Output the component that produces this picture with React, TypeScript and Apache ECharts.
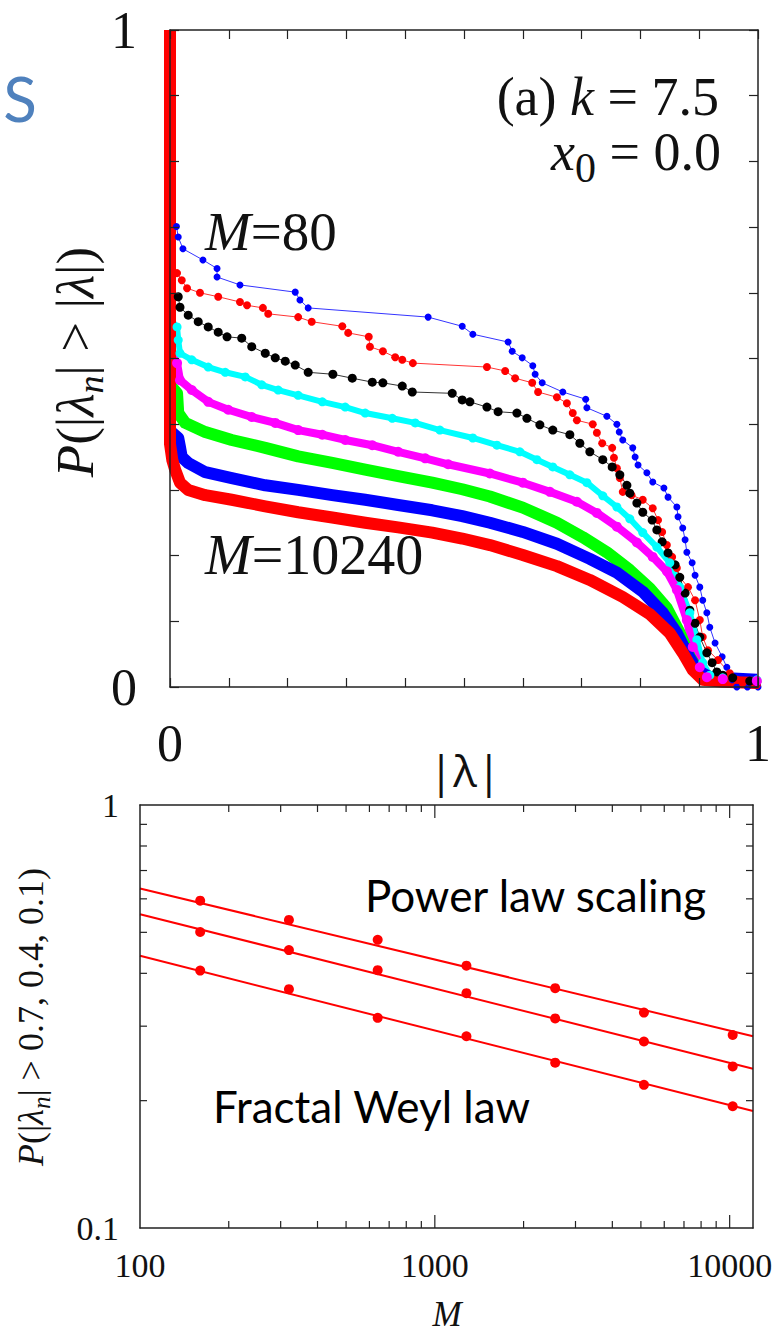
import React, { useEffect, useRef } from 'react';
import * as echarts from 'echarts';

// ---------- Top panel: P(|λn| > |λ|) vs |λ| ----------
const m80 = [[0, 1], [0, 0.72], [0.011, 0.701], [0.014, 0.685], [0.022, 0.667], [0.056, 0.650], [0.080, 0.637], [0.080, 0.624], [0.119, 0.612], [0.213, 0.601], [0.221, 0.589], [0.235, 0.577], [0.439, 0.563], [0.497, 0.549], [0.515, 0.537], [0.575, 0.525], [0.582, 0.511], [0.599, 0.501], [0.617, 0.489], [0.621, 0.476], [0.633, 0.463], [0.668, 0.449], [0.707, 0.438], [0.709, 0.425], [0.743, 0.412], [0.760, 0.400], [0.764, 0.388], [0.770, 0.376], [0.787, 0.364], [0.791, 0.350], [0.796, 0.338], [0.811, 0.326], [0.821, 0.312], [0.840, 0.303], [0.847, 0.289], [0.862, 0.274], [0.864, 0.259], [0.872, 0.242], [0.876, 0.224], [0.879, 0.205], [0.888, 0.189], [0.893, 0.170], [0.901, 0.152], [0.906, 0.132], [0.913, 0.113], [0.918, 0.091], [0.927, 0.067], [0.939, 0.046], [0.947, 0.030], [0.956, 0.011], [0.964, 0], [0.982, 0], [1.0, 0]];
const m160 = [[0, 1], [0, 0.65], [0.012, 0.630], [0.020, 0.619], [0.029, 0.607], [0.051, 0.600], [0.082, 0.594], [0.119, 0.586], [0.131, 0.581], [0.158, 0.577], [0.167, 0.568], [0.218, 0.563], [0.241, 0.556], [0.293, 0.549], [0.303, 0.539], [0.338, 0.533], [0.340, 0.518], [0.362, 0.511], [0.383, 0.502], [0.395, 0.498], [0.413, 0.493], [0.539, 0.487], [0.570, 0.481], [0.587, 0.470], [0.616, 0.463], [0.626, 0.449], [0.658, 0.441], [0.675, 0.432], [0.685, 0.417], [0.692, 0.406], [0.719, 0.400], [0.726, 0.387], [0.735, 0.371], [0.752, 0.364], [0.755, 0.349], [0.760, 0.333], [0.765, 0.318], [0.770, 0.297], [0.785, 0.292], [0.804, 0.285], [0.821, 0.272], [0.830, 0.254], [0.837, 0.236], [0.845, 0.216], [0.854, 0.198], [0.862, 0.181], [0.867, 0.167], [0.881, 0.152], [0.893, 0.132], [0.901, 0.102], [0.906, 0.076], [0.915, 0.056], [0.932, 0.041], [0.952, 0.021], [0.964, 0.011], [0.974, 0.006], [0.998, 0.003]];
const m320 = [[0, 1], [0, 0.61], [0.014, 0.594], [0.017, 0.578], [0.031, 0.566], [0.048, 0.556], [0.065, 0.548], [0.082, 0.540], [0.097, 0.533], [0.122, 0.531], [0.139, 0.518], [0.162, 0.508], [0.179, 0.501], [0.196, 0.496], [0.213, 0.490], [0.235, 0.479], [0.277, 0.476], [0.310, 0.470], [0.344, 0.464], [0.362, 0.463], [0.395, 0.458], [0.412, 0.449], [0.480, 0.447], [0.497, 0.437], [0.510, 0.434], [0.539, 0.426], [0.558, 0.419], [0.590, 0.417], [0.607, 0.409], [0.629, 0.399], [0.651, 0.391], [0.680, 0.384], [0.697, 0.371], [0.714, 0.358], [0.736, 0.346], [0.752, 0.335], [0.765, 0.323], [0.777, 0.307], [0.782, 0.295], [0.794, 0.280], [0.804, 0.266], [0.820, 0.254], [0.828, 0.239], [0.837, 0.221], [0.847, 0.204], [0.859, 0.186], [0.867, 0.167], [0.876, 0.143], [0.884, 0.117], [0.893, 0.097], [0.901, 0.076], [0.913, 0.052], [0.922, 0.037], [0.930, 0.023], [0.940, 0.018], [0.957, 0.014], [0.986, 0.009], [0.998, 0.008]];
const m640 = [[0, 1], [0, 0.56], [0.012, 0.548], [0.014, 0.528], [0.017, 0.508], [0.037, 0.498], [0.065, 0.487], [0.094, 0.479], [0.128, 0.472], [0.156, 0.460], [0.184, 0.452], [0.218, 0.444], [0.259, 0.434], [0.298, 0.426], [0.332, 0.417], [0.378, 0.409], [0.417, 0.402], [0.459, 0.391], [0.515, 0.379], [0.556, 0.368], [0.595, 0.358], [0.624, 0.346], [0.651, 0.335], [0.680, 0.323], [0.709, 0.311], [0.736, 0.291], [0.760, 0.274], [0.782, 0.256], [0.804, 0.235], [0.828, 0.213], [0.850, 0.189], [0.867, 0.152], [0.884, 0.113], [0.896, 0.072], [0.906, 0.037], [0.918, 0.018], [0.940, 0.014], [0.998, 0.011]];
const m1280 = [[0, 1], [0, 0.51], [0.012, 0.493], [0.017, 0.467], [0.037, 0.452], [0.065, 0.434], [0.099, 0.422], [0.139, 0.411], [0.179, 0.402], [0.218, 0.391], [0.259, 0.384], [0.298, 0.376], [0.344, 0.368], [0.388, 0.358], [0.434, 0.348], [0.473, 0.339], [0.544, 0.325], [0.600, 0.311], [0.646, 0.297], [0.692, 0.282], [0.726, 0.265], [0.760, 0.244], [0.794, 0.220], [0.821, 0.198], [0.845, 0.176], [0.862, 0.148], [0.879, 0.102], [0.889, 0.061], [0.901, 0.030], [0.913, 0.015], [0.940, 0.012], [0.998, 0.009]];
const m2560 = [[0, 1], [0, 0.46], [0.012, 0.447], [0.014, 0.417], [0.026, 0.402], [0.060, 0.388], [0.105, 0.376], [0.162, 0.364], [0.218, 0.351], [0.276, 0.341], [0.332, 0.331], [0.388, 0.321], [0.446, 0.311], [0.497, 0.301], [0.544, 0.290], [0.600, 0.273], [0.658, 0.250], [0.702, 0.228], [0.743, 0.205], [0.782, 0.178], [0.816, 0.150], [0.845, 0.120], [0.867, 0.082], [0.884, 0.046], [0.901, 0.021], [0.923, 0.014], [0.998, 0.009]];
const m5120 = [[0, 1], [0, 0.39], [0.014, 0.379], [0.017, 0.365], [0.020, 0.350], [0.031, 0.341], [0.060, 0.327], [0.105, 0.318], [0.162, 0.307], [0.218, 0.300], [0.276, 0.292], [0.332, 0.285], [0.388, 0.277], [0.446, 0.269], [0.497, 0.260], [0.544, 0.250], [0.600, 0.236], [0.658, 0.218], [0.714, 0.195], [0.760, 0.174], [0.804, 0.145], [0.838, 0.113], [0.862, 0.082], [0.879, 0.052], [0.896, 0.026], [0.918, 0.015], [0.998, 0.011]];
const m10240 = [[0, 1], [0, 0.37], [0.004, 0.345], [0.009, 0.330], [0.017, 0.311], [0.031, 0.300], [0.060, 0.292], [0.105, 0.285], [0.162, 0.275], [0.218, 0.266], [0.276, 0.258], [0.332, 0.250], [0.388, 0.243], [0.446, 0.235], [0.497, 0.226], [0.544, 0.216], [0.600, 0.201], [0.658, 0.184], [0.714, 0.163], [0.770, 0.137], [0.816, 0.111], [0.850, 0.082], [0.872, 0.052], [0.889, 0.026], [0.906, 0.011], [0.940, 0.008], [0.998, 0.006]];
const topTickLabels = ['0', '1'];

// ---------- Bottom panel: P(|λn| > 0.7, 0.4, 0.1) vs M ----------
const mValues = [160, 320, 640, 1280, 2560, 5120, 10240];
const pAbove01 = [0.594, 0.535, 0.480, 0.417, 0.369, 0.323, 0.286];
const pAbove04 = [0.501, 0.454, 0.407, 0.359, 0.313, 0.276, 0.241];
const pAbove07 = [0.406, 0.367, 0.314, 0.284, 0.246, 0.218, 0.194];
const fitM = [100, 12000];
const fit01 = [0.635, 0.284];
const fit04 = [0.552, 0.238];
const fit07 = [0.440, 0.189];
const xMajorTicks = [1000, 10000];
const xMinorTicks = [200, 300, 400, 500, 600, 700, 800, 900, 2000, 3000, 4000, 5000, 6000, 7000, 8000, 9000];
const yMinorTicks = [0.2, 0.3, 0.4, 0.5, 0.6, 0.7, 0.8, 0.9];
const bottomXLabels = [100, 1000, 10000];

const SERIF = 'Liberation Serif, serif';
const SANS = 'Lato, Open Sans, Noto Sans, sans-serif';
const AX = '#222';
const INK = '#111';

function topSeries(data: number[][], color: string, lineWidth: number, symbolSize: number) {
  return {
    type: 'line',
    xAxisIndex: 0,
    yAxisIndex: 0,
    // points on the hidden steep part at |λ|≈0 carry no marker
    data: data.map((p) => (p[0] < 0.005 ? { value: p, symbol: 'none' } : p)),
    clip: false,
    silent: true,
    showSymbol: symbolSize > 0,
    symbol: 'circle',
    symbolSize,
    itemStyle: { color },
    lineStyle: { color, width: lineWidth, cap: 'butt', join: 'round' },
    z: 2,
  };
}

function serifRich(size: number, lineHeight: number, subSize: number, subHeight: number) {
  return {
    r: { fontFamily: SERIF, fontStyle: 'normal', fontSize: size, lineHeight, fill: INK },
    i: { fontFamily: SERIF, fontStyle: 'italic', fontSize: size, lineHeight, fill: INK },
    s: { fontFamily: SERIF, fontStyle: 'italic', fontSize: subSize, lineHeight, height: subHeight, verticalAlign: 'bottom', fill: INK },
    u: { fontFamily: SERIF, fontStyle: 'normal', fontSize: subSize, lineHeight, height: subHeight, verticalAlign: 'bottom', fill: INK },
  };
}

function richText(x: number, y: number, text: string, align: string, rich: any, lineHeight: number, size: number, rotation = 0) {
  return {
    type: 'text', x, y, rotation, silent: true,
    style: {
      text, fontFamily: SERIF, fontStyle: 'normal', fontSize: size, lineHeight, fill: INK,
      align, verticalAlign: 'middle', textAlign: align, textVerticalAlign: 'middle',
      rich,
    },
  };
}

export default function App() {
  const ref = useRef<HTMLDivElement>(null);
  useEffect(() => {
    const chart = echarts.init(ref.current as HTMLDivElement, null, { renderer: 'svg' });

    const topLabelFmt = (v: number) => (Math.abs(v) < 1e-9 ? topTickLabels[0] : Math.abs(v - 1) < 1e-9 ? topTickLabels[1] : '');
    const topTick = { show: true, inside: true, length: 9, lineStyle: { color: AX, width: 1.2 } };
    const axisLine = { show: true, onZero: false, lineStyle: { color: AX, width: 1.5 } };

    const option: any = {
      animation: false,
      backgroundColor: '#fff',
      grid: [
        { left: 170, top: 30, width: 588, height: 657, show: false, containLabel: false, outerBoundsMode: 'none' },
        { left: 140, top: 805, width: 613, height: 423, show: false, containLabel: false, outerBoundsMode: 'none' },
      ],
      xAxis: [
        {
          gridIndex: 0, type: 'value', min: 0, max: 1, interval: 0.1, position: 'bottom', z: 10,
          axisLine, axisTick: topTick, splitLine: { show: false },
          axisLabel: { show: true, margin: 30, fontSize: 52, fontFamily: SERIF, color: INK, formatter: topLabelFmt, showMinLabel: true, showMaxLabel: true },
        },
        {
          gridIndex: 0, type: 'value', min: 0, max: 1, interval: 0.1, position: 'top', z: 10,
          axisLine, axisTick: topTick, splitLine: { show: false }, axisLabel: { show: false },
        },
        {
          gridIndex: 1, type: 'log', logBase: 10, min: 100, max: 12000, position: 'bottom', z: 10,
          axisLine, axisTick: { show: false }, splitLine: { show: false }, minorTick: { show: false },
          axisLabel: {
            show: true, margin: 20, fontSize: 34, fontFamily: SERIF, color: INK,
            formatter: (v: number) => (bottomXLabels.includes(Math.round(v)) ? String(Math.round(v)) : ''),
          },
        },
        {
          gridIndex: 1, type: 'log', logBase: 10, min: 100, max: 12000, position: 'top', z: 10,
          axisLine, axisTick: { show: false }, splitLine: { show: false }, axisLabel: { show: false },
        },
      ],
      yAxis: [
        {
          gridIndex: 0, type: 'value', min: 0, max: 1, interval: 0.1, position: 'left', z: 10,
          axisLine, axisTick: topTick, splitLine: { show: false },
          axisLabel: { show: true, margin: 33, fontSize: 52, fontFamily: SERIF, color: INK, formatter: topLabelFmt, showMinLabel: true, showMaxLabel: true },
        },
        {
          gridIndex: 0, type: 'value', min: 0, max: 1, interval: 0.1, position: 'right', z: 10,
          axisLine, axisTick: topTick, splitLine: { show: false }, axisLabel: { show: false },
        },
        {
          gridIndex: 1, type: 'log', logBase: 10, min: 0.1, max: 1, position: 'left', z: 10,
          axisLine, axisTick: { show: false }, splitLine: { show: false }, minorTick: { show: false },
          axisLabel: {
            show: true, margin: 21, fontSize: 34, fontFamily: SERIF, color: INK,
            formatter: (v: number) => (Math.abs(v - 1) < 1e-6 ? '1' : Math.abs(v - 0.1) < 1e-6 ? '0.1' : ''),
          },
        },
        {
          gridIndex: 1, type: 'log', logBase: 10, min: 0.1, max: 1, position: 'right', z: 10,
          axisLine, axisTick: { show: false }, splitLine: { show: false }, axisLabel: { show: false },
        },
      ],
      series: [
        topSeries(m80, '#0000ff', 0.8, 7),
        topSeries(m160, '#ff0000', 0.8, 8),
        topSeries(m320, '#000000', 0.8, 9),
        topSeries(m640, '#00ffff', 6, 9),
        topSeries(m1280, '#ff00ff', 8, 10),
        topSeries(m2560, '#00ff00', 12, 0),
        topSeries(m5120, '#0000ff', 12, 0),
        topSeries(m10240, '#ff0000', 12, 0),
        ...[fit01, fit04, fit07].map((fit) => ({
          type: 'line', xAxisIndex: 2, yAxisIndex: 2, silent: true, showSymbol: false,
          data: fitM.map((m, i) => [m, fit[i]]),
          lineStyle: { color: '#ff0000', width: 2 },
          itemStyle: { color: '#ff0000' },
        })),
        ...[pAbove01, pAbove04, pAbove07].map((p) => ({
          type: 'scatter', xAxisIndex: 2, yAxisIndex: 2, silent: true,
          data: mValues.map((m, i) => [m, p[i]]),
          symbolSize: 10,
          itemStyle: { color: '#ff0000', opacity: 1 },
        })),
        {
          type: 'custom', xAxisIndex: 2, yAxisIndex: 2, silent: true, z: 10,
          data: [...xMajorTicks, ...xMinorTicks].map((v) => [v, 0.1]),
          renderItem: (_p: any, api: any) => {
            const v = api.value(0);
            const len = xMajorTicks.includes(v) ? 13 : 7;
            const b = api.coord([v, 0.1]);
            const t = api.coord([v, 1]);
            const st = { stroke: AX, lineWidth: 1.2 };
            return {
              type: 'group',
              children: [
                { type: 'line', shape: { x1: b[0], y1: b[1], x2: b[0], y2: b[1] - len }, style: st },
                { type: 'line', shape: { x1: t[0], y1: t[1], x2: t[0], y2: t[1] + len }, style: st },
              ],
            };
          },
        },
        {
          type: 'custom', xAxisIndex: 2, yAxisIndex: 2, silent: true, z: 10,
          data: yMinorTicks.map((v) => [100, v]),
          renderItem: (_p: any, api: any) => {
            const v = api.value(1);
            const l = api.coord([100, v]);
            const r = api.coord([12000, v]);
            const st = { stroke: AX, lineWidth: 1.2 };
            return {
              type: 'group',
              children: [
                { type: 'line', shape: { x1: l[0], y1: l[1], x2: l[0] + 7, y2: l[1] }, style: st },
                { type: 'line', shape: { x1: r[0], y1: r[1], x2: r[0] - 7, y2: r[1] }, style: st },
              ],
            };
          },
        },
      ],
      graphic: [
        {
          type: 'text', x: 20, y: 98, silent: true,
          style: { text: 'S', fontFamily: SANS, fontSize: 62, fill: '#4f81bd', align: 'center', verticalAlign: 'middle', textAlign: 'center', textVerticalAlign: 'middle' },
        },
        richText(75, 362, '{i|P}{r|(|}{i|λ}{s|n}{r|| > |}{i|λ}{r||)}', 'center', serifRich(53, 64, 36, 32), 64, 53, Math.PI / 2),
        {
          type: 'text', x: 465, y: 770, silent: true,
          style: { text: '|λ|', fontFamily: 'Open Sans, Noto Sans, sans-serif', fontSize: 44, fill: INK, align: 'center', verticalAlign: 'middle', textAlign: 'center', textVerticalAlign: 'middle' },
        },
        richText(719, 97, '{r|(a) }{i|k}{r| = 7.5}', 'right', serifRich(54, 44, 40, 24), 44, 54),
        richText(721, 152, '{i|x}{u|0}{r| = 0.0}', 'right', serifRich(54, 56, 42, 24), 56, 54),
        richText(205, 231, '{i|M}{r|=80}', 'left', serifRich(55, 56, 40, 24), 56, 55),
        richText(205, 555, '{i|M}{r|=10240}', 'left', serifRich(56, 56, 40, 24), 56, 56),
        {
          type: 'text', x: 365, y: 895, silent: true,
          style: { text: 'Power law scaling', fontFamily: SANS, fontSize: 44, fill: '#000', align: 'left', verticalAlign: 'middle', textAlign: 'left', textVerticalAlign: 'middle' },
        },
        {
          type: 'text', x: 213, y: 1106, silent: true,
          style: { text: 'Fractal Weyl law', fontFamily: SANS, fontSize: 44, fill: '#000', align: 'left', verticalAlign: 'middle', textAlign: 'left', textVerticalAlign: 'middle' },
        },
        richText(31, 1017, '{i|P}{r|(|}{i|λ}{s|n}{r|| > 0.7, 0.4, 0.1)}', 'center', serifRich(36, 44, 25, 24), 44, 36, Math.PI / 2),
        richText(447, 1314, '{i|M}', 'center', serifRich(35, 40, 24, 24), 40, 35),
      ],
    };

    chart.setOption(option);
    return () => chart.dispose();
  }, []);

  return <div ref={ref} style={{ position: 'absolute', left: 0, top: 0, width: 780, height: 1336, background: '#fff' }} />;
}
